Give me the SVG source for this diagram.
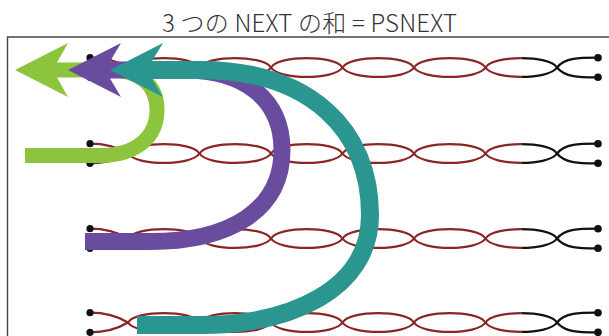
<svg xmlns="http://www.w3.org/2000/svg" xmlns:xlink="http://www.w3.org/1999/xlink" width="609" height="336" viewBox="0 0 609 336">
<style>
.wire{fill:none;stroke-width:2.3;stroke-linecap:round}
.red{stroke:#8b2626}
.blk{stroke:#111}
.dot{fill:#111}
.title{font-family:"Noto Sans CJK JP","Noto Sans",sans-serif;font-size:24px;font-weight:300;fill:#333}
.frame{fill:none;stroke:#444;stroke-width:1.4}
.shaft{fill:none;stroke-linecap:butt}
</style>
<defs>
<g id="wires">
<path class="wire" d="M90,-9.8 C106,-9.8 118,-6 128,0 C136,12.5 191.5,12.5 199.5,0 C207.5,-12.5 263,-12.5 271,0 C279,12.5 334.5,12.5 342.5,0 C350.5,-12.5 406,-12.5 414,0 C422,12.5 477.5,12.5 485.5,0 C493.5,-12.5 549,-12.5 557,0 C565,10 580,9.8 598,9.8"/>
<path class="wire" d="M90,9.8 C106,9.8 118,6 128,0 C136,-12.5 191.5,-12.5 199.5,0 C207.5,12.5 263,12.5 271,0 C279,-12.5 334.5,-12.5 342.5,0 C350.5,12.5 406,12.5 414,0 C422,-12.5 477.5,-12.5 485.5,0 C493.5,12.5 549,12.5 557,0 C565,-10 580,-9.8 598,-9.8"/>
</g>
<g id="dots">
<circle class="dot" cx="90" cy="-9.8" r="3.6"/>
<circle class="dot" cx="90" cy="9.8" r="3.6"/>
<circle class="dot" cx="598" cy="-9.8" r="3.8"/>
<circle class="dot" cx="598" cy="9.8" r="3.8"/>
</g>
<clipPath id="clipRed"><rect x="0" y="-25" width="521.5" height="50"/></clipPath>
<clipPath id="clipBlk"><rect x="521.5" y="-25" width="100" height="50"/></clipPath>
</defs>

<g id="title"><text class="title" x="162" y="31.5" textLength="295" lengthAdjust="spacing">3 つの NEXT の和 = PSNEXT</text></g>

<g id="frame"><path class="frame" d="M7.5,340 V37 H612"/></g>

<g id="pair-1" transform="translate(0,67.5)">
<use xlink:href="#wires" class="red" clip-path="url(#clipRed)"/>
<use xlink:href="#wires" class="blk" clip-path="url(#clipBlk)"/>
<use xlink:href="#dots"/>
</g>
<g id="pair-2" transform="translate(0,153.5)">
<use xlink:href="#wires" class="red" clip-path="url(#clipRed)"/>
<use xlink:href="#wires" class="blk" clip-path="url(#clipBlk)"/>
<use xlink:href="#dots"/>
</g>
<g id="pair-3" transform="translate(0,238.5)">
<use xlink:href="#wires" class="red" clip-path="url(#clipRed)"/>
<use xlink:href="#wires" class="blk" clip-path="url(#clipBlk)"/>
<use xlink:href="#dots"/>
</g>
<g id="pair-4" transform="translate(0,322.5)">
<use xlink:href="#wires" class="red" clip-path="url(#clipRed)"/>
<use xlink:href="#wires" class="blk" clip-path="url(#clipBlk)"/>
<use xlink:href="#dots"/>
</g>

<g id="connectors">
<g id="arrow-green">
<path class="shaft" stroke="#8cc43e" stroke-width="15" d="M25,155.5 L100,155.5 C135,155.5 157,138 157,110 C157,85 140,70 110,70 L56,70"/>
<polygon fill="#8cc43e" points="15,70 68,43 57,62.5 57,77.5 68,97"/>
</g>
<g id="arrow-purple">
<path class="shaft" stroke="#6a4c9e" stroke-width="17" d="M85,241.5 L150,241.5 C230,241.5 282,210 282,150 C282,100 245,70 185,70 L109,70"/>
<polygon fill="#6a4c9e" points="68,70 121,43 110,61.5 110,78.5 121,97"/>
</g>
<g id="arrow-teal">
<path class="shaft" stroke="#2b9690" stroke-width="18" d="M137,325 L200,325 C290,325 370,290 370,215 C370,130 310,70 200,70 L151,70"/>
<polygon fill="#2b9690" points="110,70 163,43 152,61 152,79 163,97"/>
</g>
</g>
</svg>
